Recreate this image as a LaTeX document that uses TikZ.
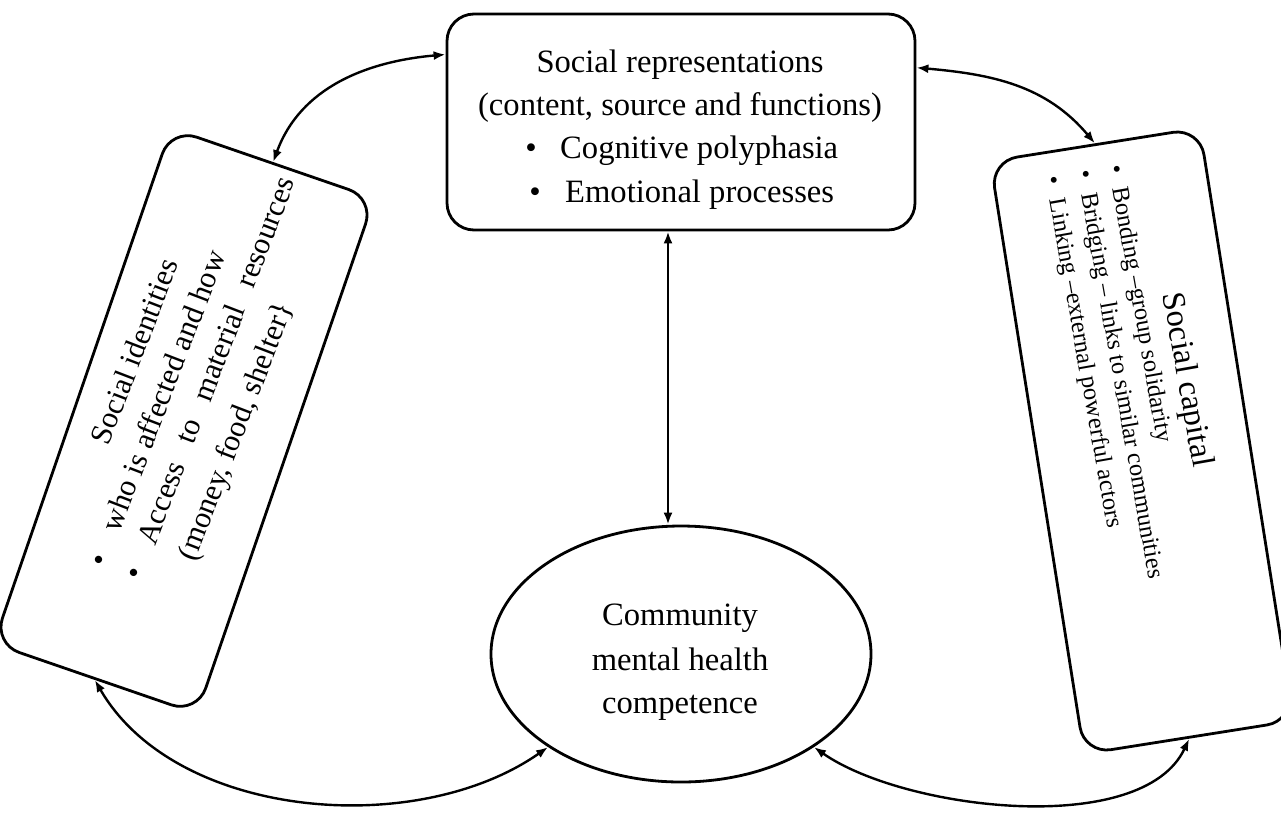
\documentclass[tikz,border=0pt]{standalone}
\usepackage{fontspec}
\setmainfont{Liberation Serif}
\usetikzlibrary{arrows.meta,shapes.geometric,calc}

\begin{document}
\begin{tikzpicture}[x=1pt,y=1pt,
  box/.style={draw=black, line width=2.8pt, rounded corners=27pt, inner sep=0pt},
  oval/.style={draw=black, ellipse, line width=2.8pt, inner sep=0pt},
  link/.style={line width=2.4pt, {Latex[length=12pt,width=9pt]}-{Latex[length=12pt,width=9pt]}},
  tbig/.style={inner sep=0pt, font=\fontsize{32.6pt}{43pt}\selectfont},
  tmid/.style={inner sep=0pt, font=\fontsize{30.5pt}{40pt}\selectfont},
  tsmall/.style={inner sep=0pt, font=\fontsize{24.5pt}{32pt}\selectfont}
]
\useasboundingbox (0,0) rectangle (1281,-812);
\fill[white] (0,0) rectangle (1281,-812);

% Social representations
\node[box, minimum width=468pt, minimum height=216pt] (tb) at (681,-122) {};
\node[tbig, anchor=base] (tb1) at (680,-72) {Social representations};
\node[tbig, anchor=base] (tb2) at (680,-115) {(content, source and functions)};
\node[tbig, anchor=base] (tbb1) at (531,-158) {•};
\node[tbig, anchor=base west] (tb3) at (560,-158) {Cognitive polyphasia};
\node[tbig, anchor=base] (tbb2) at (535,-202) {•};
\node[tbig, anchor=base west] (tb4) at (565,-202) {Emotional processes};

% Community mental health competence
\node[oval, minimum width=380pt, minimum height=256pt] (ce) at (681,-654) {};
\node[tbig, anchor=base] (ce1) at (680,-625) {Community};
\node[tbig, anchor=base] (ce2) at (680,-670) {mental health};
\node[tbig, anchor=base] (ce3) at (680,-713) {competence};

% Social identities (tilted box)
\begin{scope}[shift={(184,-421)}, rotate=71, transform shape]
  \node[box, minimum width=545pt, minimum height=215pt] (si) at (0,0) {};
\end{scope}
\begin{scope}[shift={(184,-421)}, rotate=69, transform shape]
  \node[tmid, anchor=base] (si1) at (47,61) {Social identities};
  \node[tmid, anchor=base] (sib1) at (-160,20) {•};
  \node[tmid, anchor=base west] (si2) at (-128,20) {who is affected and how};
  \node[tmid, anchor=base] (sib2) at (-160,-18) {•};
  \node[tmid, anchor=base west] (si3) at (-128,-18) {\hbox to 391pt{Access\hfil to\hfil material\hfil resources}};
  \node[tmid, anchor=base west] (si4) at (-128,-61) {(money, food, shelter\}};
\end{scope}

% Social capital (tilted box)
\begin{scope}[shift={(1142,-441)}, rotate=-81, transform shape]
  \node[box, minimum width=600pt, minimum height=212pt] (rb) at (0,0) {};
\end{scope}
\begin{scope}[shift={(1142,-441)}, rotate=-80, transform shape]
  \node[tbig, anchor=base] (rb1) at (-52,46) {Social capital};
  \node[tsmall, anchor=base] (rbb1) at (-272,15) {•};
  \node[tsmall, anchor=base west] (rb2) at (-254,15) {Bonding –group solidarity};
  \node[tsmall, anchor=base] (rbb2) at (-272,-17) {•};
  \node[tsmall, anchor=base west] (rb3) at (-254,-17) {Bridging – links to similar communities};
  \node[tsmall, anchor=base] (rbb3) at (-272,-49) {•};
  \node[tsmall, anchor=base west] (rb4) at (-254,-49) {Linking –external powerful actors};
\end{scope}

% Connectors
\draw[link] (tb.164) to[out=185,in=70] (si.east);
\draw[link] (tb.13) to[out=-5,in=130] (rb.west);
\draw[link] ([xshift=-13pt]tb.south) -- ([xshift=-13pt]ce.north);
\draw[link] (si.west) to[out=-60,in=215,looseness=0.9] (ce.215);
\draw[link] (ce.325) to[out=-35,in=-115,looseness=0.75] (rb.east);
\end{tikzpicture}
\end{document}
